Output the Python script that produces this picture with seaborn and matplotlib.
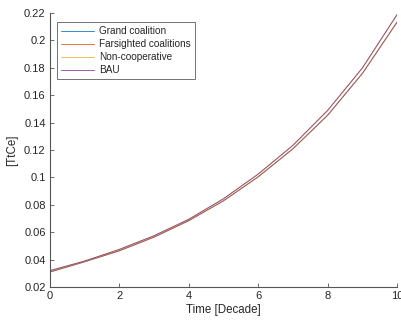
import numpy as np
import pandas as pd
import matplotlib
matplotlib.use("Agg")
import matplotlib.pyplot as plt
from matplotlib.lines import Line2D
import seaborn as sns

decades = [0, 1, 2, 3, 4, 5, 6, 7, 8, 9, 10]
grand_coalition = [0.031, 0.0385, 0.0465, 0.0565, 0.0685, 0.083, 0.1005, 0.121, 0.1455, 0.176, 0.2135]
farsighted = [0.031, 0.0385, 0.0465, 0.0565, 0.0685, 0.083, 0.1005, 0.121, 0.1455, 0.176, 0.2135]
non_cooperative = [0.032, 0.039, 0.0475, 0.0575, 0.0695, 0.0845, 0.1025, 0.1235, 0.149, 0.180, 0.219]
bau = [0.032, 0.039, 0.0475, 0.0575, 0.0695, 0.0845, 0.1025, 0.1235, 0.149, 0.180, 0.219]
series_names = ["Grand coalition", "Farsighted coalitions", "Non-cooperative", "BAU"]
colors = ["#0072BD", "#D95319", "#EDB120", "#7E2F8E"]

frames = []
for name, vals in zip(series_names, [grand_coalition, farsighted, non_cooperative, bau]):
    frames.append(pd.DataFrame({"t": decades, "v": vals, "s": name}))
df = pd.concat(frames, ignore_index=True)

sns.set_style("white")
plt.rcParams["font.family"] = ["Liberation Sans", "DejaVu Sans"]

fig = plt.figure(figsize=(4.02, 3.27), dpi=100)
ax = fig.add_axes([0.124, 0.122, 0.864, 0.838])
sns.lineplot(data=df, x="t", y="v", hue="s", palette=dict(zip(series_names, colors)),
             hue_order=series_names, linewidth=0.7, alpha=0.8, ax=ax, legend=False)

ax.set_xlim(0, 10)
ax.set_ylim(0.02, 0.22)
ax.set_xticks([0, 2, 4, 6, 8, 10])
ax.set_yticks(np.round(np.arange(0.02, 0.2201, 0.02), 2))
ax.set_yticklabels(["0.02", "0.04", "0.06", "0.08", "0.1", "0.12", "0.14", "0.16", "0.18", "0.2", "0.22"])
ax.set_xticklabels(["0", "2", "4", "6", "8", "10"])
gray = "#262626"
for side in ["top", "right"]:
    ax.spines[side].set_visible(False)
for side in ["left", "bottom"]:
    ax.spines[side].set_color("#555555")
    ax.spines[side].set_linewidth(0.8)
ax.tick_params(direction="in", length=3, width=0.6, colors="#555555", labelcolor=gray,
               labelsize=8, pad=3, left=True, bottom=True)
ax.set_xlabel("Time [Decade]", fontsize=8.3, color=gray, labelpad=2)
ax.set_ylabel("[TtCe]", fontsize=8.3, color=gray, labelpad=4)

handles = [Line2D([0], [0], color=c, lw=0.7, alpha=0.8) for c in colors]
leg = ax.legend(handles, series_names, loc="upper left", bbox_to_anchor=(0.022, 0.967),
                fontsize=7.2, frameon=True, fancybox=False, edgecolor="#333333",
                handlelength=3.3, handletextpad=0.45, borderpad=0.4, labelspacing=0.3,
                borderaxespad=0)
leg.get_frame().set_linewidth(0.6)

fig.savefig("out.png", dpi=100)
